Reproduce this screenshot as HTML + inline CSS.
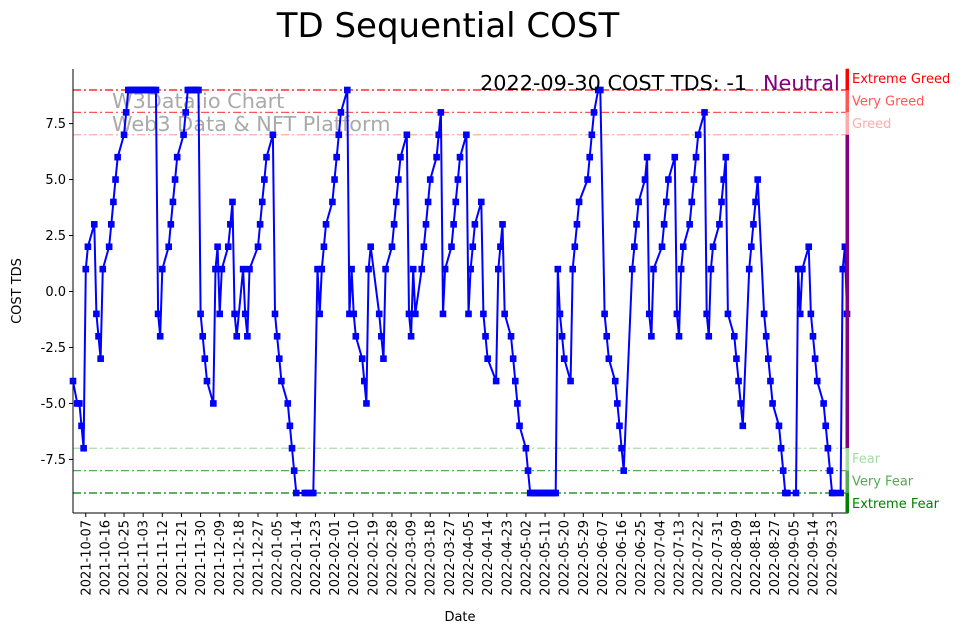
<!DOCTYPE html>
<html><head><meta charset="utf-8"><style>
body{margin:0;background:#fff;}
svg{display:block;font-family:"DejaVu Sans","Liberation Sans",sans-serif;}
</style></head><body>
<svg id="chart" width="967" height="633" viewBox="0 0 967 633" xmlns="http://www.w3.org/2000/svg">
<text x="448" y="37" font-size="34" text-anchor="middle" fill="#000">TD Sequential COST</text>
<g fill="#aaaaaa" font-size="20.8">
<text x="112" y="108">W3Data.io Chart</text>
<text x="112" y="131">Web3 Data &amp; NFT Platform</text>
</g>
<g id="levels"></g>
<g id="xaxis"></g>
<g id="yaxis"></g>
<g id="series"></g>
<g id="bar"></g>
<text x="480" y="90" font-size="20.8" fill="#000">2022-09-30 COST TDS: -1</text>
<text x="763" y="90" font-size="20.8" fill="#800080">Neutral</text>
<text transform="translate(21,291) rotate(-90)" font-size="13" text-anchor="middle">COST TDS</text>
<text x="460" y="621" font-size="13" text-anchor="middle">Date</text>
</svg>
<script>
const dayOffsets=[0,2,3,4,5,6,7,10,11,12,13,14,17,18,19,20,21,24,25,26,27,28,29,30,31,32,33,34,35,36,37,38,39,40,41,42,45,46,47,48,49,52,53,54,55,56,57,58,59,60,61,62,63,66,67,68,69,70,73,74,75,76,77,80,81,82,83,87,88,89,90,91,94,95,96,97,98,101,102,103,104,105,109,110,112,113,115,116,117,118,119,122,123,124,125,126,129,130,131,132,133,136,137,138,139,140,144,145,146,147,150,151,152,153,154,157,158,159,160,161,164,165,166,167,168,171,172,173,174,175,178,179,180,181,182,185,186,187,188,189,192,193,194,195,199,200,201,202,203,206,207,208,209,210,213,214,215,216,217,218,219,220,221,222,223,224,225,226,227,228,229,230,231,234,235,236,237,238,242,243,244,245,247,248,250,251,252,255,256,257,258,259,263,264,265,266,269,270,271,272,273,277,278,279,280,283,284,285,286,287,290,291,292,293,294,297,298,299,300,301,304,305,306,307,308,311,312,313,314,315,318,319,320,321,322,325,326,327,328,329,332,333,334,335,336,340,341,342,343,346,347,348,349,350,353,354,355,356,357,358,361,362,363,364];
const tdsValues=[-4,-5,-5,-6,-7,1,2,3,-1,-2,-3,1,2,3,4,5,6,7,8,9,9,9,9,9,9,9,9,9,9,9,9,9,9,-1,-2,1,2,3,4,5,6,7,8,9,9,9,9,9,9,-1,-2,-3,-4,-5,1,2,-1,1,2,3,4,-1,-2,1,-1,-2,1,2,3,4,5,6,7,-1,-2,-3,-4,-5,-6,-7,-8,-9,-9,-9,-9,-9,1,-1,1,2,3,4,5,6,7,8,9,-1,1,-1,-2,-3,-4,-5,1,2,-1,-2,-3,1,2,3,4,5,6,7,-1,-2,1,-1,1,2,3,4,5,6,7,8,-1,1,2,3,4,5,6,7,-1,1,2,3,4,-1,-2,-3,-4,1,2,3,-1,-2,-3,-4,-5,-6,-7,-8,-9,-9,-9,-9,-9,-9,-9,-9,-9,-9,-9,-9,-9,1,-1,-2,-3,-4,1,2,3,4,5,6,7,8,9,9,-1,-2,-3,-4,-5,-6,-7,-8,1,2,3,4,5,6,-1,-2,1,2,3,4,5,6,-1,-2,1,2,3,4,5,6,7,8,-1,-2,1,2,3,4,5,6,-1,-2,-3,-4,-5,-6,1,2,3,4,5,-1,-2,-3,-4,-5,-6,-7,-8,-9,-9,-9,1,-1,1,2,-1,-2,-3,-4,-5,-6,-7,-8,-9,-9,-9,1,2,-1];
const tickLabels=["2021-10-07","2021-10-16","2021-10-25","2021-11-03","2021-11-12","2021-11-21","2021-11-30","2021-12-09","2021-12-18","2021-12-27","2022-01-05","2022-01-14","2022-01-23","2022-02-01","2022-02-10","2022-02-19","2022-02-28","2022-03-09","2022-03-18","2022-03-27","2022-04-05","2022-04-14","2022-04-23","2022-05-02","2022-05-11","2022-05-20","2022-05-29","2022-06-07","2022-06-16","2022-06-25","2022-07-04","2022-07-13","2022-07-22","2022-07-31","2022-08-09","2022-08-18","2022-08-27","2022-09-05","2022-09-14","2022-09-23"];
const tickDays=[6,15,24,33,42,51,60,69,78,87,96,105,114,123,132,141,150,159,168,177,186,195,204,213,222,231,240,249,258,267,276,285,294,303,312,321,330,339,348,357];
const yTicks=[-7.5,-5,-2.5,0,2.5,5,7.5];
const levelValues=[9,8,7,-7,-8,-9];
const levelNames=["Extreme Greed","Very Greed","Greed","Fear","Very Fear","Extreme Fear"];
const levelColors=["#ff0000","#ff5555","#ffaaaa","#a6dba6","#55aa55","#008000"];

const NS="http://www.w3.org/2000/svg";
const X0=73,X1=847,DMAX=364;
const xS=d=>X0+(d/DMAX)*(X1-X0);
const yS=v=>291.5-v*22.39;
function mk(tag,attrs,parent){const e=document.createElementNS(NS,tag);for(const k in attrs)e.setAttribute(k,attrs[k]);parent.appendChild(e);return e;}
const lv=document.getElementById('levels');
levelValues.forEach((v,i)=>{
 const l=mk('line',{x1:X0,x2:X1,y1:yS(v),y2:yS(v),stroke:levelColors[i],'stroke-width':1.2,'stroke-dasharray':'8,3,2,3'},lv);
 
 
 const t=mk('text',{x:852,y:(i<3?yS(v)-7:yS(v)+15),'font-size':13,fill:levelColors[i]},lv);
 t.textContent=levelNames[i];
 
 
});
const xa=document.getElementById('xaxis');
const xl=mk('line',{x1:X0,x2:X1+1,y1:513,y2:513,stroke:'#000','stroke-width':1},xa);


tickLabels.forEach((lab,i)=>{
 const x=xS(tickDays[i]);
 mk('line',{x1:x,x2:x,y1:513,y2:517,stroke:'#000'},xa);
 const t=mk('text',{transform:`translate(${x+4.5},520) rotate(-90)`,'font-size':13,'text-anchor':'end'},xa);
 t.textContent=lab;
 
 
});
const ya=document.getElementById('yaxis');
const yl=mk('line',{x1:X0,x2:X0,y1:69,y2:513,stroke:'#000','stroke-width':1},ya);


yTicks.forEach(v=>{
 const y=yS(v);
 mk('line',{x1:X0-4,x2:X0,y1:y,y2:y,stroke:'#000'},ya);
 const t=mk('text',{x:X0-7,y:y+4.5,'font-size':13,'text-anchor':'end'},ya);
 t.textContent=v.toFixed(1);
 
 
});
const sg=document.getElementById('series');
const pts=dayOffsets.map((d,i)=>xS(d).toFixed(1)+','+yS(tdsValues[i]).toFixed(1)).join(' ');
const pl=mk('polyline',{points:pts,fill:'none',stroke:'#0000ff','stroke-width':2},sg);


dayOffsets.forEach((d,i)=>{
 const r=mk('rect',{x:xS(d)-3.3,y:yS(tdsValues[i])-3.3,width:6.6,height:6.6,fill:'#0000ff'},sg);
 
 
});
const bg=document.getElementById('bar');
const segs=[[9.95,9,'#ff0000'],[9,8,'#ff5555'],[8,7,'#ffaaaa'],[7,-7,'#800080'],[-7,-8,'#a6dba6'],[-8,-9,'#55aa55'],[-9,-9.9,'#008000']];
segs.forEach(s=>{
 const r=mk('rect',{x:845.5,y:yS(s[0]),width:3.5,height:yS(s[1])-yS(s[0]),fill:s[2]},bg);
 
 
});
</script>
</body></html>
